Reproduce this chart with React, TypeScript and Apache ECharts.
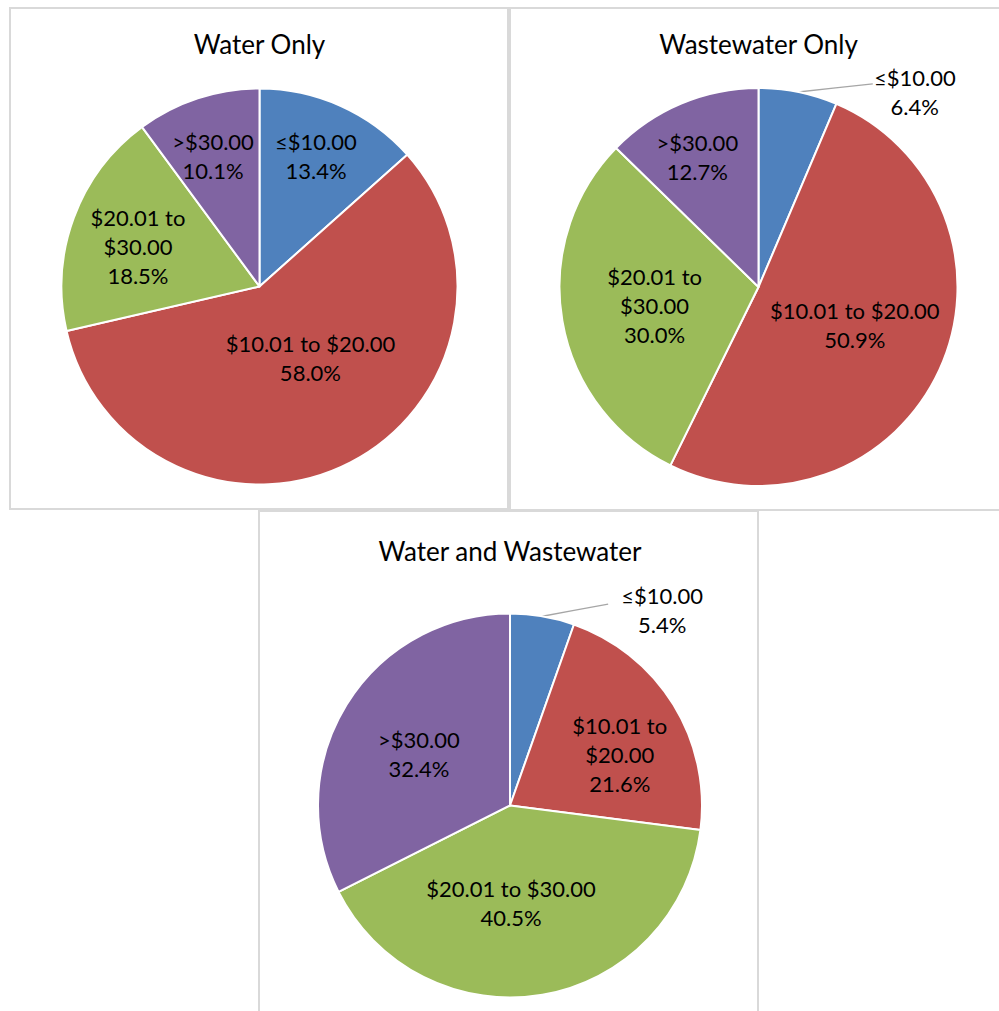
import React, { useEffect, useRef } from 'react';
import * as echarts from 'echarts';

// ---- data ----
const categories = ['≤$10.00', '$10.01 to $20.00', '$20.01 to $30.00', '>$30.00'];
const waterOnly = [13.4, 58.0, 18.5, 10.1];
const wastewaterOnly = [6.4, 50.9, 30.0, 12.7];
const waterAndWastewater = [5.4, 21.6, 40.5, 32.4];
const chartTitles = ['Water Only', 'Wastewater Only', 'Water and Wastewater'];
const seriesValues = [waterOnly, wastewaterOnly, waterAndWastewater];

// ---- styles / layout ----
const colors = ['#4F81BD', '#C0504D', '#9BBB59', '#8064A2'];
const FONT = 'Lato, "Noto Sans", sans-serif';

type PieLayout = {
  center: [number, number];
  r: number;
  titleY: number;
  labels: [number, number][]; // [angle deg clockwise from top, fraction of radius]
  wrap: number[];
  outside: { [k: number]: [number, number] }; // leader end offset from label centre
};

const layouts: PieLayout[] = [
  {
    center: [259.5, 286.5], r: 198, titleY: 44,
    labels: [[23.4, 0.718], [144.7, 0.445], [-71.6, 0.647], [-19.6, 0.70]],
    wrap: [2], outside: {},
  },
  {
    center: [758.5, 287], r: 199, titleY: 44,
    labels: [[38.7, 1.256], [111.4, 0.52], [260.1, 0.53], [-25.3, 0.72]],
    wrap: [2], outside: { 0: [-42, -8] },
  },
  {
    center: [510, 805.5], r: 192, titleY: 551,
    labels: [[37.9, 1.29], [65.1, 0.63], [179.4, 0.51], [-60.3, 0.546]],
    wrap: [1], outside: { 0: [-54, -6] },
  },
];

const boxes = [
  { x: 10, y: 8, w: 498, h: 501 },
  { x: 510, y: 8, w: 500, h: 502 },
  { x: 259, y: 511, w: 499, h: 520 },
];

function buildOption() {
  const series = seriesValues.map((vals, si) => {
    const L = layouts[si];
    const total = vals.reduce((a, b) => a + b, 0);
    return {
      type: 'pie',
      center: L.center,
      radius: L.r,
      startAngle: 90,
      clockwise: true,
      avoidLabelOverlap: false,
      silent: true,
      itemStyle: { borderColor: '#ffffff', borderWidth: 2 },
      labelLine: { show: false },
      label: {
        show: true,
        position: 'inside',
        color: '#000000',
        fontFamily: FONT,
        fontSize: 22,
        lineHeight: 29,
        align: 'center',
        formatter: (p: any) => {
          const nm = L.wrap.includes(p.dataIndex) ? p.name.replace(' to ', ' to\n') : p.name;
          return nm + '\n' + Number(p.value).toFixed(1) + '%';
        },
      },
      labelLayout: (params: any) => {
        const i = params.dataIndex;
        const [ang, f] = L.labels[i];
        const a = (ang * Math.PI) / 180;
        const x = L.center[0] + f * L.r * Math.sin(a);
        const y = L.center[1] - f * L.r * Math.cos(a);
        const res: any = { x, y, align: 'center', verticalAlign: 'middle' };
        const off = L.outside[i];
        if (off) {
          const before = vals.slice(0, i).reduce((s, v) => s + v, 0);
          const mid = ((before + vals[i] / 2) / total) * 2 * Math.PI;
          const sx = L.center[0] + L.r * Math.sin(mid);
          const sy = L.center[1] - L.r * Math.cos(mid);
          const ex = x + off[0];
          const ey = y + off[1];
          res.labelLinePoints = [[sx, sy], [(sx + ex) / 2, (sy + ey) / 2], [ex, ey]];
        }
        return res;
      },
      data: vals.map((v, i) => {
        const item: any = { name: categories[i], value: v, itemStyle: { color: colors[i] } };
        if (L.outside[i]) {
          item.label = { position: 'outside' };
          item.labelLine = { show: true, length: 10, length2: 10, lineStyle: { color: '#a6a6a6', width: 1.3 } };
        }
        return item;
      }),
    };
  });

  const graphic: any[] = boxes.map((b) => ({
    type: 'rect',
    silent: true,
    z: -10,
    shape: { x: b.x, y: b.y, width: b.w, height: b.h },
    style: { fill: '#ffffff', stroke: '#d9d9d9', lineWidth: 2 },
  }));
  chartTitles.forEach((t, i) => {
    graphic.push({
      type: 'text',
      silent: true,
      x: layouts[i].center[0],
      y: layouts[i].titleY,
      style: { text: t, fill: '#000000', font: `26px ${FONT}`, align: 'center', verticalAlign: 'middle' },
    });
  });

  return { animation: false, backgroundColor: '#ffffff', graphic, series };
}

export default function App() {
  const ref = useRef<HTMLDivElement>(null);
  useEffect(() => {
    if (!ref.current) return;
    const chart = echarts.init(ref.current, null, { renderer: 'svg' });
    chart.setOption(buildOption() as any);
    return () => chart.dispose();
  }, []);
  return <div ref={ref} style={{ position: 'fixed', left: 0, top: 0, width: 999, height: 1011 }} />;
}
